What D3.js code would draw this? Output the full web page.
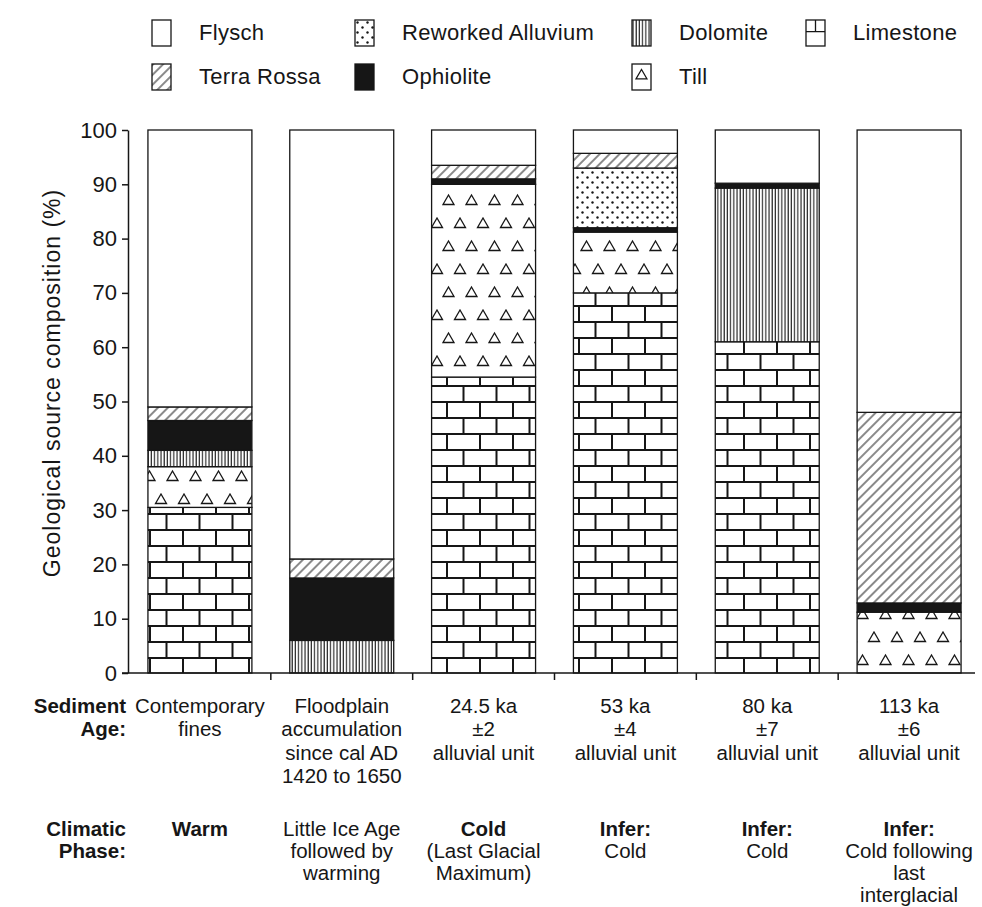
<!DOCTYPE html>
<html>
<head>
<meta charset="utf-8">
<script src="https://cdn.jsdelivr.net/npm/d3@7"></script>
<style>
body { margin: 0; background: #fff; }
text { font-family: "Liberation Sans", Arial, sans-serif; fill: #161616; }
</style>
</head>
<body>
<div id="chart"></div>
<script>
const categories = ['Contemporary fines', 'Floodplain accumulation', '24.5 ka', '53 ka', '80 ka', '113 ka'];

// % composition, read bottom to top of each column
const limestone = [30.5, 0, 54.5, 70, 61, 0];
const till = [7.5, 0, 35.5, 11.2, 0, 11.2];
const dolomite = [3, 6, 0, 0, 28.3, 0];
const ophiolite = [5.5, 11.5, 1, 0.8, 0.9, 1.7];
const reworkedAlluvium = [0, 0, 0, 11, 0, 0];
const terraRossa = [2.5, 3.5, 2.5, 2.7, 0, 35.1];
const flysch = [51, 79, 6.5, 4.3, 9.8, 52];

const yTicks = [0, 10, 20, 30, 40, 50, 60, 70, 80, 90, 100];

const ageLabels = [
  ['Contemporary', 'fines'],
  ['Floodplain', 'accumulation', 'since cal AD', '1420 to 1650'],
  ['24.5 ka', '±2', 'alluvial unit'],
  ['53 ka', '±4', 'alluvial unit'],
  ['80 ka', '±7', 'alluvial unit'],
  ['113 ka', '±6', 'alluvial unit']
];
const climateLabels = [
  ['Warm'],
  ['Little Ice Age', 'followed by', 'warming'],
  ['Cold', '(Last Glacial', 'Maximum)'],
  ['Infer:', 'Cold'],
  ['Infer:', 'Cold'],
  ['Infer:', 'Cold following', 'last', 'interglacial']
];
const climateFirstBold = [true, false, true, true, true, true];

const keys = ['Limestone', 'Till', 'Dolomite', 'Ophiolite', 'Reworked Alluvium', 'Terra Rossa', 'Flysch'];
const series = [limestone, till, dolomite, ophiolite, reworkedAlluvium, terraRossa, flysch];

const table = categories.map((c, i) => {
  const row = { category: c };
  keys.forEach((k, j) => { row[k] = series[j][i]; });
  return row;
});

const width = 982;
const height = 907;
const ink = '#161616';

const svg = d3.select('#chart').append('svg')
  .attr('width', width).attr('height', height);

const x = d3.scaleBand(categories, [129, 980]).paddingInner(0.267).paddingOuter(0.1335);
const y = d3.scaleLinear([0, 100], [673, 130]);

const patId = k => 'pat-' + k.replace(/\s+/g, '-').toLowerCase();

// patterns
const defs = svg.append('defs');

const brick = defs.append('pattern').attr('id', patId('Limestone'))
  .attr('patternUnits', 'userSpaceOnUse').attr('width', 33).attr('height', 32)
  .attr('x', 0).attr('y', y(0));
brick.append('rect').attr('width', 33).attr('height', 32).attr('fill', '#fff');
brick.append('path')
  .attr('d', 'M0,1H33M0,17H33M1.5,1V17M18,17V33')
  .attr('stroke', ink).attr('stroke-width', 2).attr('fill', 'none');

const tri = (cx, cy) => `M${cx - 5.5},${cy + 4.5}L${cx},${cy - 5}L${cx + 5.5},${cy + 4.5}Z`;
const tillPat = defs.append('pattern').attr('id', patId('Till'))
  .attr('patternUnits', 'userSpaceOnUse').attr('width', 23).attr('height', 46)
  .attr('x', 0).attr('y', 4);
tillPat.append('rect').attr('width', 23).attr('height', 46).attr('fill', '#fff');
tillPat.append('path')
  .attr('d', tri(11.5, 12) + tri(0, 35) + tri(23, 35))
  .attr('stroke', ink).attr('stroke-width', 1.3).attr('fill', 'none');

const dolo = defs.append('pattern').attr('id', patId('Dolomite'))
  .attr('patternUnits', 'userSpaceOnUse').attr('width', 3.2).attr('height', 10);
dolo.append('rect').attr('width', 3.2).attr('height', 10).attr('fill', '#fff');
dolo.append('line').attr('x1', 1).attr('x2', 1).attr('y1', 0).attr('y2', 10)
  .attr('stroke', ink).attr('stroke-width', 1.1);

const hatch = defs.append('pattern').attr('id', patId('Terra Rossa'))
  .attr('patternUnits', 'userSpaceOnUse').attr('width', 7).attr('height', 7)
  .attr('patternTransform', 'rotate(45)');
hatch.append('rect').attr('width', 7).attr('height', 7).attr('fill', '#fff');
hatch.append('line').attr('x1', 1).attr('x2', 1).attr('y1', 0).attr('y2', 7)
  .attr('stroke', ink).attr('stroke-width', 1);

const dots = defs.append('pattern').attr('id', patId('Reworked Alluvium'))
  .attr('patternUnits', 'userSpaceOnUse').attr('width', 10).attr('height', 10);
dots.append('rect').attr('width', 10).attr('height', 10).attr('fill', '#fff');
dots.append('circle').attr('cx', 2.5).attr('cy', 2.5).attr('r', 1.2).attr('fill', ink);
dots.append('circle').attr('cx', 7.5).attr('cy', 7.5).attr('r', 1.2).attr('fill', ink);

const fillFor = k => {
  if (k === 'Flysch') return '#fff';
  if (k === 'Ophiolite') return ink;
  return `url(#${patId(k)})`;
};

// stacked bars
const stacked = d3.stack().keys(keys)(table);

svg.append('g').selectAll('g')
  .data(stacked)
  .join('g')
  .attr('fill', d => fillFor(d.key))
  .selectAll('rect')
  .data(d => d.filter(s => s[1] - s[0] > 0))
  .join('rect')
  .attr('x', d => x(d.data.category))
  .attr('width', x.bandwidth())
  .attr('y', d => y(d[1]))
  .attr('height', d => y(d[0]) - y(d[1]))
  .attr('stroke', ink)
  .attr('stroke-width', 1.3);

// y axis
const yAxis = svg.append('g')
  .attr('transform', 'translate(128,0)')
  .call(d3.axisLeft(y).tickValues(yTicks).tickSize(6).tickSizeOuter(0).tickPadding(5));
yAxis.select('.domain').attr('stroke', ink).attr('stroke-width', 1.5);
yAxis.selectAll('.tick line').attr('stroke', ink).attr('stroke-width', 1.5);
yAxis.selectAll('.tick text')
  .attr('font-size', 22)
  .attr('font-family', '"Liberation Sans", Arial, sans-serif')
  .attr('fill', ink);

svg.append('text')
  .attr('transform', 'translate(60,383) rotate(-90)')
  .attr('text-anchor', 'middle')
  .attr('font-size', 23)
  .attr('letter-spacing', 1)
  .text('Geological source composition (%)');

// x baseline and ticks between columns
svg.append('line')
  .attr('x1', 122).attr('x2', 975)
  .attr('y1', y(0)).attr('y2', y(0))
  .attr('stroke', ink).attr('stroke-width', 1.5);

const gap = x.step() * x.paddingInner();
svg.append('g').selectAll('line')
  .data(categories.slice(0, -1))
  .join('line')
  .attr('x1', d => x(d) + x.bandwidth() + gap / 2)
  .attr('x2', d => x(d) + x.bandwidth() + gap / 2)
  .attr('y1', y(0)).attr('y2', y(0) + 7)
  .attr('stroke', ink).attr('stroke-width', 1.5);

// bottom labels
const ageTop = 713;
const climTop = 836;

const labelBlock = (lines, top, lineH, boldFirst) => {
  svg.append('g').selectAll('text')
    .data(lines)
    .join('text')
    .attr('x', (d, i) => x(categories[i]) + x.bandwidth() / 2)
    .attr('y', top)
    .attr('text-anchor', 'middle')
    .attr('font-size', 20.5)
    .each(function (d, i) {
      d3.select(this).selectAll('tspan')
        .data(d)
        .join('tspan')
        .attr('x', x(categories[i]) + x.bandwidth() / 2)
        .attr('dy', (t, j) => j === 0 ? 0 : lineH)
        .attr('font-weight', (t, j) => (j === 0 && boldFirst && boldFirst[i]) ? 'bold' : 'normal')
        .text(t => t);
    });
};
labelBlock(ageLabels, ageTop, 23.3, null);
labelBlock(climateLabels, climTop, 22, climateFirstBold);

const rowHead = (lines, top, lineH) => {
  svg.append('text')
    .attr('x', 126).attr('y', top)
    .attr('text-anchor', 'end')
    .attr('font-size', 20.5)
    .attr('font-weight', 'bold')
    .selectAll('tspan')
    .data(lines)
    .join('tspan')
    .attr('x', 126)
    .attr('dy', (t, j) => j === 0 ? 0 : lineH)
    .text(t => t);
};
rowHead(['Sediment', 'Age:'], ageTop, 23.3);
rowHead(['Climatic', 'Phase:'], climTop, 22);

// legend
const legendItems = ['Flysch', 'Reworked Alluvium', 'Dolomite', 'Limestone', 'Terra Rossa', 'Ophiolite', 'Till'];
const legendCol = [152, 355, 632, 806];
const legendRow = [20, 64];
const legendPos = [[0, 0], [1, 0], [2, 0], [3, 0], [0, 1], [1, 1], [2, 1]];
const bw = 19, bh = 26;

const leg = svg.append('g').selectAll('g')
  .data(legendItems)
  .join('g')
  .attr('transform', (d, i) => `translate(${legendCol[legendPos[i][0]]},${legendRow[legendPos[i][1]]})`);

leg.append('rect')
  .attr('width', bw).attr('height', bh)
  .attr('fill', d => (d === 'Limestone' || d === 'Till') ? '#fff' : fillFor(d))
  .attr('stroke', ink).attr('stroke-width', 1.3);

leg.filter(d => d === 'Limestone').append('path')
  .attr('d', `M0,${bh * 0.45}H${bw}M${bw / 2},0V${bh * 0.45}`)
  .attr('stroke', ink).attr('stroke-width', 1.3).attr('fill', 'none');

leg.filter(d => d === 'Till').append('path')
  .attr('d', tri(bw / 2, bh * 0.4))
  .attr('stroke', ink).attr('stroke-width', 1.2).attr('fill', 'none');

leg.append('text')
  .attr('x', 47).attr('y', bh / 2 + 7)
  .attr('font-size', 22)
  .attr('letter-spacing', 0.3)
  .text(d => d);
</script>
</body>
</html>
